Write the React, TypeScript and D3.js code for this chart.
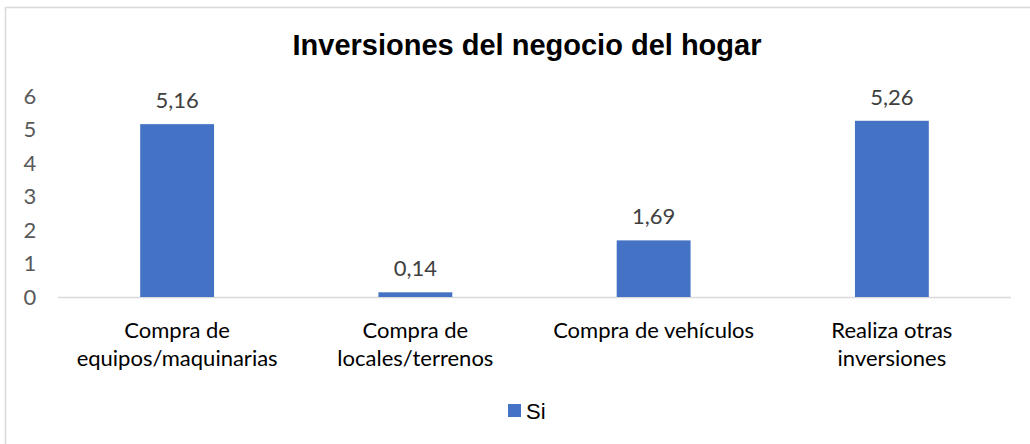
import React from "react";
import * as d3 from "d3";

const categories: string[][] = [
  ["Compra de", "equipos/maquinarias"],
  ["Compra de", "locales/terrenos"],
  ["Compra de vehículos"],
  ["Realiza otras", "inversiones"],
];
const values: number[] = [5.16, 0.14, 1.69, 5.26];
const yTicks: number[] = [0, 1, 2, 3, 4, 5, 6];
const seriesName = "Si";
const title = "Inversiones del negocio del hogar";

const W = 1030;
const H = 444;
const plotLeft = 58;
const plotRight = 1011;
const baseY = 297;
const topY = 96;

export default function App() {
  const x = d3
    .scaleBand<number>()
    .domain(values.map((_, i) => i))
    .range([plotLeft, plotRight])
    .paddingInner(0)
    .paddingOuter(0);
  const y = d3.scaleLinear().domain([0, 6]).range([baseY, topY]);
  const barW = x.bandwidth() * 0.31;
  const fmt = (v: number) => v.toFixed(2).replace(".", ",");
  const font = "Lato, 'Open Sans', sans-serif";
  const fs = 22;

  return (
    <div style={{ position: "absolute", left: 0, top: 0 }}>
      <svg width={W} height={H} style={{ display: "block" }}>
        <rect x={0} y={0} width={W} height={H} fill="#ffffff" />
        <rect x={5.5} y={7.5} width={W + 20} height={H + 20} fill="none" stroke="#d9d9d9" strokeWidth={1.5} />
        <text
          x={527}
          y={55}
          textAnchor="middle"
          fontFamily="'Liberation Sans', Arial, sans-serif"
          fontWeight="bold"
          fontSize={29}
          fill="#000"
        >
          {title}
        </text>
        {yTicks.map((t) => (
          <text
            key={t}
            x={30}
            y={y(t)}
            dy="0.35em"
            textAnchor="middle"
            fontFamily={font}
            fontSize={fs}
            fill="#595959"
          >
            {t}
          </text>
        ))}
        <line x1={plotLeft} x2={plotRight} y1={baseY + 0.5} y2={baseY + 0.5} stroke="#d9d9d9" strokeWidth={1.5} />
        {values.map((v, i) => {
          const cx = (x(i) as number) + x.bandwidth() / 2;
          return (
            <g key={i}>
              <rect x={cx - barW / 2} y={y(v)} width={barW} height={baseY - y(v)} fill="#4472C4" />
              <text
                x={cx}
                y={y(v) - 16}
                textAnchor="middle"
                fontFamily={font}
                fontSize={fs}
                fill="#404040"
              >
                {fmt(v)}
              </text>
              {categories[i].map((line, j) => (
                <text
                  key={j}
                  x={cx}
                  y={338 + j * 28}
                  textAnchor="middle"
                  fontFamily={font}
                  fontSize={fs}
                  fill="#000"
                >
                  {line}
                </text>
              ))}
            </g>
          );
        })}
        <rect x={508} y={404} width={13} height={13} fill="#4472C4" />
        <text x={526} y={419} fontFamily="'Liberation Sans', Arial, sans-serif" fontSize={22} fill="#000">
          {seriesName}
        </text>
      </svg>
    </div>
  );
}
